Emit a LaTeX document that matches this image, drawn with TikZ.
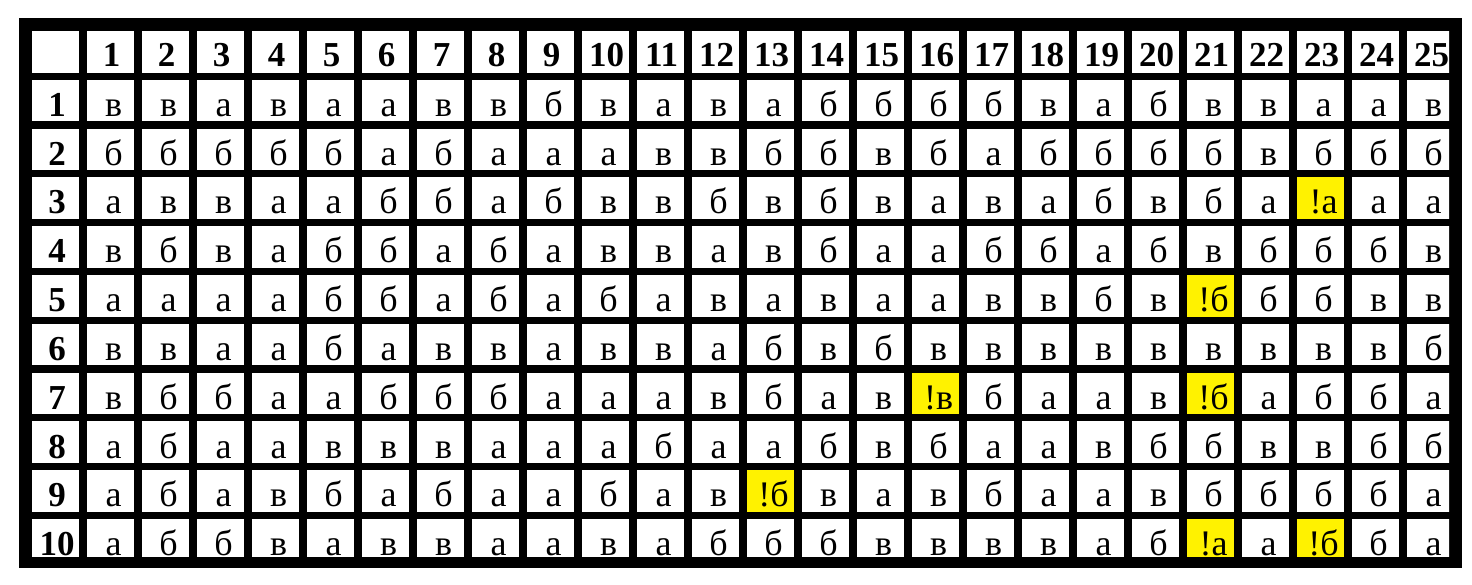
\documentclass[tikz,border=0pt]{standalone}
\usepackage{fontspec}
\setmainfont{Liberation Serif}
\begin{document}
\begin{tikzpicture}[x=1pt,y=-1pt,
  cellbox/.style={fill=white},
  hilite/.style={fill=yellow},
  lbl/.style={anchor=base,inner sep=0pt,font=\fontsize{36}{36}\selectfont},
  hdr/.style={anchor=base,inner sep=0pt,font=\fontsize{35}{35}\selectfont\bfseries}]
\useasboundingbox[fill=white] (0,0) rectangle (1472,585);
\fill[black] (19,18) rectangle (1462,568);
\begin{scope}
\clip (19,18) rectangle (1449,556);
% white cells
\foreach \i in {0,...,10}{
  \foreach \j in {0,...,25}{
    \fill[cellbox] ({31.7+55*\j},{31+48.8*\i}) rectangle ++(47.7,41.6);
  }
}
% highlighted cells
\foreach \i/\j in {3/23,5/21,7/16,7/21,9/13,10/21,10/23}{
  \fill[hilite] ({31.7+55*\j},{31+48.8*\i}) rectangle ++(47.7,41.6);
}
% column headers
\foreach \j in {1,...,25}{
  \node[hdr] (h0-\j) at ({31.7+55*\j+23.85+1},{31+41.6-6.5}) {\j};
}
% row headers
\foreach \i in {1,...,10}{
  \node[hdr] (h\i-0) at ({31.7+23.85+1.5},{31+48.8*\i+41.6-5}) {\i};
}
% body
\foreach \row [count=\i] in {
 {в,в,а,в,а,а,в,в,б,в,а,в,а,б,б,б,б,в,а,б,в,в,а,а,в},
 {б,б,б,б,б,а,б,а,а,а,в,в,б,б,в,б,а,б,б,б,б,в,б,б,б},
 {а,в,в,а,а,б,б,а,б,в,в,б,в,б,в,а,в,а,б,в,б,а,!а,а,а},
 {в,б,в,а,б,б,а,б,а,в,в,а,в,б,а,а,б,б,а,б,в,б,б,б,в},
 {а,а,а,а,б,б,а,б,а,б,а,в,а,в,а,а,в,в,б,в,!б,б,б,в,в},
 {в,в,а,а,б,а,в,в,а,в,в,а,б,в,б,в,в,в,в,в,в,в,в,в,б},
 {в,б,б,а,а,б,б,б,а,а,а,в,б,а,в,!в,б,а,а,в,!б,а,б,б,а},
 {а,б,а,а,в,в,в,а,а,а,б,а,а,б,в,б,а,а,в,б,б,в,в,б,б},
 {а,б,а,в,б,а,б,а,а,б,а,в,!б,в,а,в,б,а,а,в,б,б,б,б,а},
 {а,б,б,в,а,в,в,а,а,в,а,б,б,б,в,в,в,в,а,б,!а,а,!б,б,а}}{
  \foreach \t [count=\j] in \row {
    \node[lbl] (c\i-\j) at ({31.7+55*\j+23.85+3},{31+48.8*\i+41.6-5}) {\t};
  }
}
\end{scope}
\end{tikzpicture}
\end{document}
